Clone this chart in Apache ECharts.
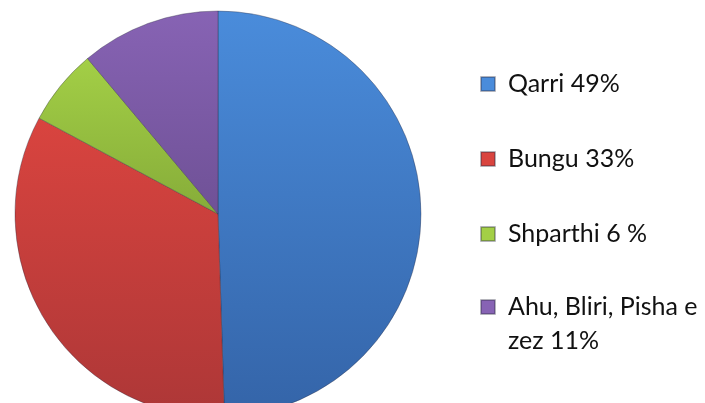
<!DOCTYPE html>
<html>
<head>
<meta charset="utf-8">
<script src="https://cdn.jsdelivr.net/npm/echarts@6/dist/echarts.min.js"></script>
<style>
  html, body { margin: 0; padding: 0; background: #fff; }
  #chart { width: 705px; height: 403px; }
</style>
</head>
<body>
<div id="chart"></div>
<script>
var names = ['Qarri', 'Bungu', 'Shparthi', 'Ahu, Bliri, Pisha e zez'];
var values = [49, 33, 6, 11];
var legendLabels = ['Qarri 49%', 'Bungu 33%', 'Shparthi 6 %', 'Ahu, Bliri, Pisha e\nzez 11%'];

// top / bottom shade of each slice
var topColors = ['#4a8cdb', '#d9443f', '#a3cf46', '#8763b4'];
var bottomColors = ['#3464a8', '#ad3737', '#86ac39', '#6f5196'];

var chart = echarts.init(document.getElementById('chart'));

var pieData = names.map(function (n, i) {
  return {
    name: n,
    value: values[i],
    itemStyle: {
      color: new echarts.graphic.LinearGradient(0, 0, 0, 1, [
        { offset: 0, color: topColors[i] },
        { offset: 1, color: bottomColors[i] }
      ])
    }
  };
});

function legendItem(i) {
  return { name: names[i], itemStyle: { color: topColors[i] } };
}

// rich text: every line as a token so it can be shifted right of the marker
function richLabel(name) {
  var lines = legendLabels[names.indexOf(name)].split('\n');
  var out = lines.map(function (l) { return '{t|' + l + '}'; }).join('\n');
  // two-line label: an empty first line keeps the marker next to line one
  return lines.length > 1 ? '{t|}\n' + out : out;
}

var legendText = {
  fontFamily: 'Lato',
  fontSize: 25,
  lineHeight: 34,
  color: '#111',
  rich: {
    t: {
      fontFamily: 'Lato',
      fontSize: 25,
      lineHeight: 34,
      color: '#111',
      padding: [0, 0, 0, 8]
    }
  }
};

var option = {
  animation: false,
  legend: [
    {
      orient: 'vertical',
      left: 475,
      top: 62,
      height: 330,
      itemWidth: 14,
      itemHeight: 14,
      itemGap: 41,
      icon: 'rect',
      data: [legendItem(0), legendItem(1), legendItem(2)],
      formatter: richLabel,
      textStyle: legendText
    },
    {
      orient: 'vertical',
      left: 475,
      top: 251,
      itemWidth: 14,
      itemHeight: 14,
      icon: 'rect',
      data: [legendItem(3)],
      formatter: richLabel,
      textStyle: legendText
    }
  ],
  series: [
    {
      type: 'pie',
      center: [218, 214],
      radius: 203,
      startAngle: 90,
      clockwise: true,
      label: { show: false },
      labelLine: { show: false },
      emphasis: { disabled: true },
      itemStyle: {
        borderColor: 'rgba(40,40,60,0.35)',
        borderWidth: 1
      },
      data: pieData
    }
  ]
};

chart.setOption(option);
</script>
</body>
</html>
